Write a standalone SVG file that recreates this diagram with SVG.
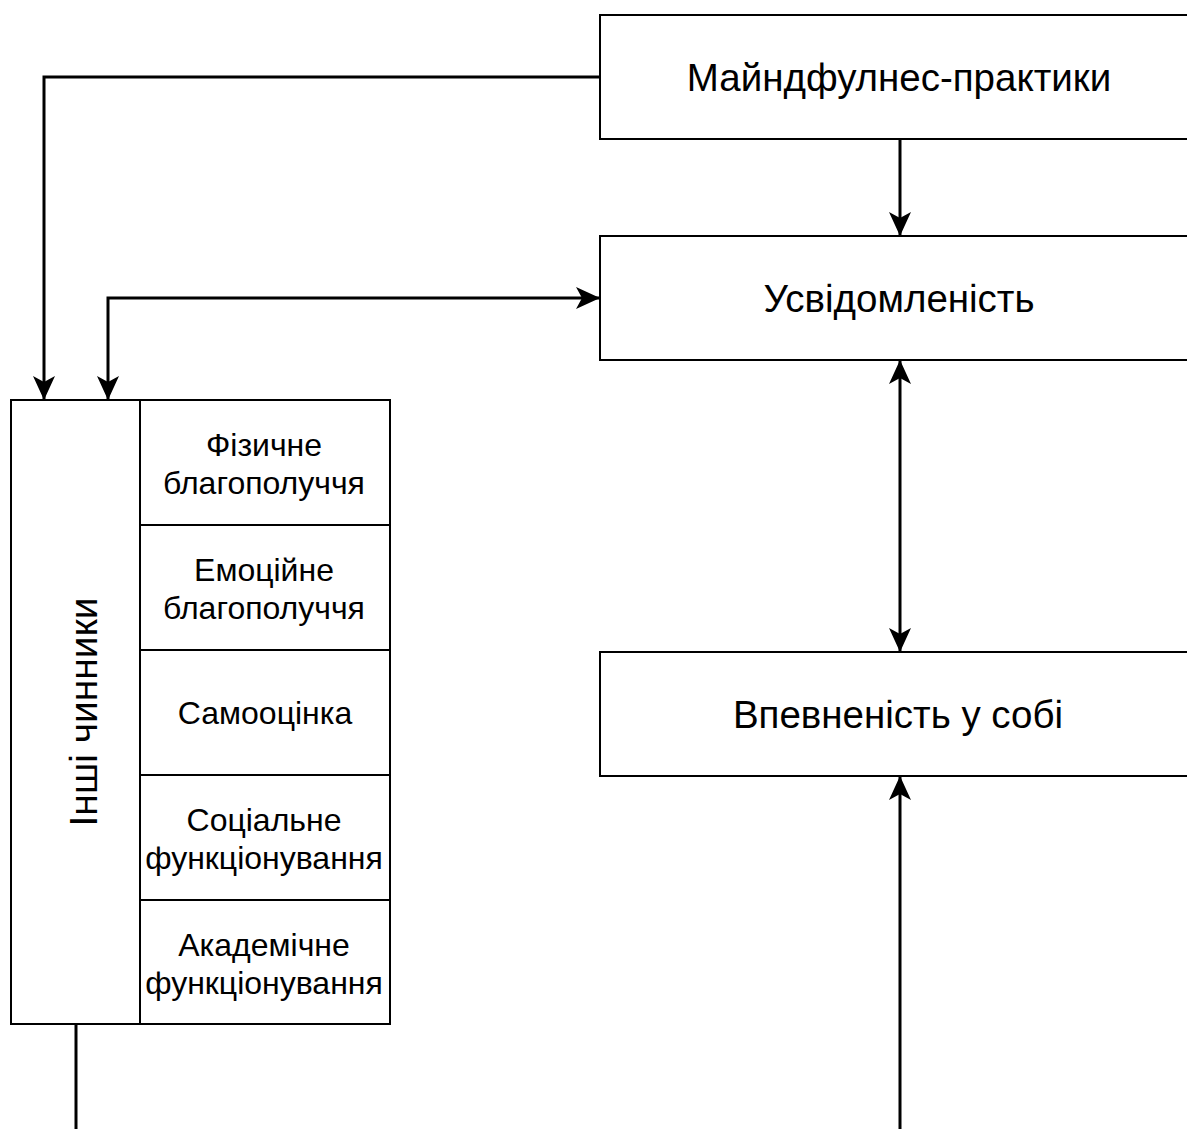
<svg xmlns="http://www.w3.org/2000/svg" width="1187" height="1129" viewBox="0 0 1187 1129">
<style>
.box{fill:#ffffff;stroke:#000000;stroke-width:2}
.div{stroke:#000000;stroke-width:2;fill:none}
.big{font-family:"Liberation Sans",Arial,sans-serif;font-size:38.5px;fill:#000000;text-anchor:middle}
.small{font-family:"Liberation Sans",Arial,sans-serif;font-size:32px;fill:#000000;text-anchor:middle}
.rot{font-family:"Liberation Sans",Arial,sans-serif;font-size:39px;fill:#000000;text-anchor:middle}
.conn{fill:none;stroke:#000000;stroke-width:3}
</style>
<defs>
<marker id="arr" viewBox="0 0 24 24" refX="23" refY="12" markerWidth="24" markerHeight="24" markerUnits="userSpaceOnUse" orient="auto-start-reverse">
<path d="M0,1 L24,12 L0,23 L6,12 Z" fill="#000000"/>
</marker>
</defs>
<rect width="1187" height="1129" fill="#ffffff"/>
<g id="connectors">
<path class="conn" d="M600,77 H44 V399" marker-end="url(#arr)"/>
<path class="conn" d="M900,139 V235" marker-end="url(#arr)"/>
<path class="conn" d="M108,399 V298 H599" marker-start="url(#arr)" marker-end="url(#arr)"/>
<path class="conn" d="M900,361 V651" marker-start="url(#arr)" marker-end="url(#arr)"/>
<path class="conn" d="M900,1129 V777" marker-end="url(#arr)"/>
<path class="conn" d="M76,1025 V1129"/>
</g>
<g id="mindfulness-practices">
<rect class="box" x="600" y="15" width="600" height="124"/>
<text class="big" x="899" y="91">Майндфулнес-практики</text>
</g>
<g id="awareness">
<rect class="box" x="600" y="236" width="600" height="124"/>
<text class="big" x="899" y="312">Усвідомленість</text>
</g>
<g id="self-confidence">
<rect class="box" x="600" y="652" width="600" height="124"/>
<text class="big" x="898" y="728">Впевненість у собі</text>
</g>
<g id="other-factors">
<rect class="box" x="11" y="400" width="379" height="624"/>
<line class="div" x1="140" y1="400" x2="140" y2="1024"/>
<line class="div" x1="140" y1="525" x2="390" y2="525"/>
<line class="div" x1="140" y1="650" x2="390" y2="650"/>
<line class="div" x1="140" y1="775" x2="390" y2="775"/>
<line class="div" x1="140" y1="900" x2="390" y2="900"/>
<text class="rot" transform="translate(97,712) rotate(-90)" x="0" y="0">Інші чинники</text>
</g>
<g id="physical-wellbeing">
<text class="small" x="264" y="456">Фізичне</text>
<text class="small" x="264" y="494">благополуччя</text>
</g>
<g id="emotional-wellbeing">
<text class="small" x="264" y="581">Емоційне</text>
<text class="small" x="264" y="619">благополуччя</text>
</g>
<g id="self-esteem">
<text class="small" x="265" y="724">Самооцінка</text>
</g>
<g id="social-functioning">
<text class="small" x="264" y="831">Соціальне</text>
<text class="small" x="264" y="869">функціонування</text>
</g>
<g id="academic-functioning">
<text class="small" x="264" y="956">Академічне</text>
<text class="small" x="264" y="994">функціонування</text>
</g>
</svg>
